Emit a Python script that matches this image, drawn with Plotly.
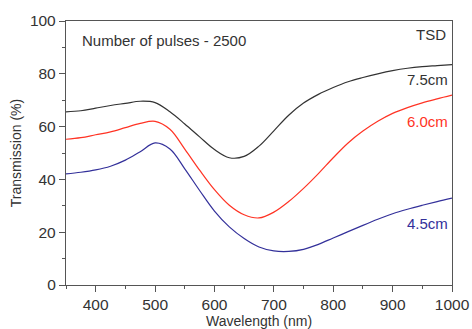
import plotly.graph_objects as go

# Transmission spectra, 2500 pulses, three target-substrate distances
wavelength = [350, 375, 400, 425, 450, 475, 500, 525, 550, 575, 600, 625, 650, 675,
              700, 725, 750, 775, 800, 825, 850, 875, 900, 925, 950, 975, 1000]

t_75 = [65.6, 66.0, 67.0, 68.0, 68.8, 69.6, 69.1, 65.6, 61.0, 56.1, 51.3, 48.2, 48.7, 52.6,
        58.4, 64.3, 68.9, 72.2, 74.8, 77.0, 78.6, 80.0, 81.2, 82.1, 82.7, 83.1, 83.5]
t_60 = [55.2, 55.8, 56.9, 58.0, 59.6, 61.2, 62.0, 59.0, 51.5, 43.5, 36.1, 30.2, 26.6, 25.4,
        27.6, 31.6, 36.6, 42.2, 48.2, 53.8, 58.3, 62.0, 65.0, 67.2, 69.0, 70.5, 71.9]
t_45 = [42.1, 42.7, 43.6, 45.0, 47.3, 50.5, 53.8, 51.5, 44.0, 35.8, 28.0, 22.0, 17.6, 14.4,
        12.9, 12.7, 13.5, 15.4, 17.8, 20.2, 22.6, 24.9, 27.0, 28.7, 30.2, 31.6, 32.9]

series = [("7.5cm", t_75, "#333333", 78.0),
          ("6.0cm", t_60, "#ff3324", 62.1),
          ("4.5cm", t_45, "#33309a", 23.2)]

x_ticks = [400, 500, 600, 700, 800, 900, 1000]
y_ticks = [0, 20, 40, 60, 80, 100]

FONT = "Liberation Sans, Arial, sans-serif"
INK = "#333333"

fig = go.Figure()
for name, vals, color, _ in series:
    fig.add_trace(go.Scatter(x=wavelength, y=vals, mode="lines", name=name,
                             line=dict(color=color, width=1.2, shape="spline", smoothing=1.0)))

annotations = [
    dict(x=374, y=92.7, text="Number of pulses - 2500", xanchor="left",
         font=dict(size=15, color=INK)),
    dict(x=993, y=95.0, text="TSD", xanchor="right", font=dict(size=15, color=INK)),
]
for name, _, color, ypos in series:
    annotations.append(dict(x=996, y=ypos, text=name, xanchor="right",
                            font=dict(size=15, color=color)))
for a in annotations:
    a.update(xref="x", yref="y", showarrow=False, yanchor="middle")

# x-axis title placed below the tick labels
annotations.append(dict(x=0.5, y=0, xref="paper", yref="paper", yshift=-35.5,
                        text="Wavelength (nm)", showarrow=False,
                        xanchor="center", yanchor="middle",
                        font=dict(size=14, color=INK)))

axis_common = dict(showline=True, linecolor="#555555", linewidth=1.3, mirror=True,
                   ticks="outside", ticklen=6, tickwidth=1.2, tickcolor="#555555",
                   showgrid=False, zeroline=False, automargin=False,
                   tickfont=dict(size=15.5, color=INK, family=FONT))

fig.update_layout(
    width=472, height=329,
    margin=dict(l=66, r=20, t=21, b=43.5),
    paper_bgcolor="white", plot_bgcolor="white",
    showlegend=False,
    font=dict(family=FONT, color=INK),
    annotations=annotations,
    xaxis=dict(range=[350, 1000], tickvals=x_ticks, ticklabelstandoff=-1,
               minor=dict(dtick=50, tick0=0, ticks="outside", ticklen=3, tickcolor="#555555"),
               **axis_common),
    yaxis=dict(range=[0, 100], tickvals=y_ticks,
               minor=dict(dtick=10, tick0=0, ticks="outside", ticklen=3, tickcolor="#555555"),
               title=dict(text="Transmission (%)", font=dict(size=14, color=INK), standoff=4),
               **axis_common),
)

fig.write_html("out.html")
